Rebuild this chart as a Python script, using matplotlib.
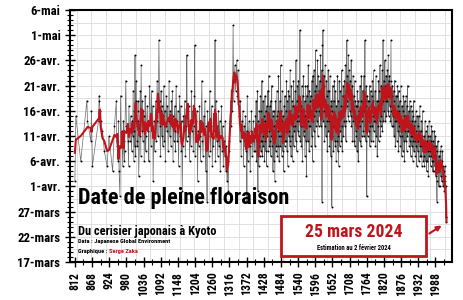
import matplotlib
matplotlib.use('Agg')
import numpy as np
import pandas as pd
import matplotlib.pyplot as plt
from matplotlib import font_manager as fm
from matplotlib.ticker import MultipleLocator, FixedLocator
from matplotlib.patches import Rectangle

# Kyoto cherry blossom full-flowering day of year
early_years = [812, 815, 831, 851, 853, 864, 866, 869, 889, 891, 892, 894, 895, 896,
               902, 908, 917, 923, 935, 941, 947, 948, 950, 953, 954, 956, 959, 961, 964, 965,
               968, 970, 971, 973, 974, 978, 980, 985, 987, 988, 990, 992, 994, 997, 999,
               1000, 1002, 1004, 1005, 1006, 1007, 1008, 1009, 1010, 1011, 1012, 1013, 1015,
               1016, 1017, 1018, 1019, 1020, 1023, 1025, 1027, 1028, 1030, 1032, 1033, 1035,
               1037, 1038, 1040, 1041, 1043, 1044, 1048, 1050, 1052, 1053, 1055, 1058, 1060,
               1062, 1064, 1066, 1067, 1070, 1072, 1075, 1077, 1079, 1080, 1082, 1083, 1086,
               1088, 1089, 1091, 1092, 1093, 1095, 1096, 1098, 1099,
               1100, 1102, 1104, 1105, 1107, 1108, 1110, 1112, 1114, 1116, 1118, 1119, 1121,
               1123, 1125, 1127, 1128, 1130, 1132, 1133, 1135, 1137, 1139, 1140, 1142, 1144,
               1146, 1148, 1150, 1152, 1153, 1155, 1157, 1159, 1160, 1162, 1164, 1166, 1168,
               1170, 1172, 1174, 1176, 1177, 1178, 1180, 1182, 1184, 1186, 1188, 1190, 1192,
               1194, 1196, 1198,
               1200, 1202, 1203, 1204, 1206, 1208, 1210, 1212, 1214, 1216, 1218, 1220, 1222,
               1224, 1226, 1228, 1230, 1232, 1234, 1236, 1238, 1240, 1242, 1243, 1244, 1246,
               1248, 1250, 1252, 1254, 1256, 1258, 1260, 1262, 1264, 1266, 1268, 1269, 1270,
               1272, 1274, 1276, 1278, 1280, 1282, 1284, 1286, 1288, 1290, 1292, 1294, 1296, 1298,
               1300, 1302, 1304, 1306, 1308, 1310, 1312, 1314, 1316, 1318, 1320, 1322, 1324,
               1326, 1328, 1330, 1332, 1334, 1336, 1338, 1340, 1342, 1344, 1346, 1348, 1350,
               1352, 1354, 1356, 1358, 1360, 1362, 1364, 1366, 1368, 1370, 1372, 1373, 1374,
               1376, 1378, 1380, 1382, 1384, 1386, 1388, 1390, 1392, 1394, 1396, 1398]
early_doy = [92, 105, 96, 108, 104, 100, 106, 95, 104, 109, 108, 106, 104, 104,
             102, 98, 95, 101, 94, 103, 108, 100, 99, 96, 104, 94, 89, 109, 99, 102,
             95, 104, 100, 96, 98, 112, 103, 100, 95, 107, 102, 100, 105, 98, 104,
             101, 110, 96, 102, 106, 99, 117, 97, 104, 108, 112, 103, 99,
             100, 106, 108, 104, 93, 101, 110, 97, 115, 102, 108, 100, 106,
             105, 96, 103, 109, 98, 101, 107, 102, 104, 96, 111, 105, 99,
             110, 102, 107, 92, 104, 98, 108, 100, 104, 112, 106, 101, 120,
             108, 103, 97, 106, 110, 101, 107, 104, 99,
             105, 111, 100, 106, 96, 103, 109, 102, 107, 98, 104, 112, 101,
             106, 99, 108, 103, 110, 96, 105, 100, 107, 102, 98, 111, 104,
             100, 106, 95, 103, 109, 101, 107, 98, 104, 90, 99, 105, 102,
             108, 97, 103, 100, 117, 106, 106, 101, 107, 96, 104, 99, 110,
             102, 106, 98,
             103, 109, 119, 97, 104, 100, 106, 92, 102, 99, 107, 101, 96,
             104, 112, 100, 97, 105, 102, 108, 94, 103, 99, 88, 106, 101,
             97, 104, 110, 98, 103, 107, 95, 101, 99, 105, 102, 120, 96,
             108, 100, 103, 97, 106, 99, 104, 94, 101, 107, 98, 103, 95, 100,
             97, 104, 94, 99, 92, 96, 90, 98, 100, 104, 108, 103, 110,
             106, 123, 108, 112, 115, 110, 113, 116, 109, 114, 108, 105, 100,
             108, 97, 104, 101, 106, 95, 103, 99, 105, 98, 102, 88, 109,
             96, 101, 104, 99, 94, 102, 106, 97, 100, 104, 98, 101]

# one value per year from 1400 to 2024 (2024 = estimate, 25 mars)
doy_1400_2024 = [
    98, 105, 101, 108, 96, 103, 100, 110, 97, 90,
    104, 99, 95, 106, 101, 97, 103, 109, 100, 98,
    106, 100, 112, 97, 104, 101, 108, 99, 103, 105,
    96, 104, 109, 100, 98, 106, 102, 95, 107, 103,
    101, 110, 98, 105, 113, 102, 99, 107, 104, 100,
    108, 97, 104, 101, 111, 99, 103, 106, 94, 105,
    100, 96, 106, 103, 92, 101, 108, 98, 104, 99,
    105, 110, 97, 102, 106, 99, 113, 101, 96, 104,
    103, 108, 99, 115, 101, 106, 97, 104, 110, 100,
    98, 105, 101, 94, 107, 103, 99, 109, 100, 102,
    106, 100, 112, 98, 104, 108, 95, 103, 110, 101,
    102, 109, 99, 106, 114, 100, 105, 97, 111, 104,
    108, 101, 96, 107, 103, 112, 99, 105, 102, 106,
    110, 103, 100, 116, 105, 98, 108, 104, 111, 102,
    105, 112, 101, 109, 104, 108, 122, 100, 106, 103,
    107, 99, 111, 104, 96, 109, 103, 113, 101, 106,
    102, 108, 97, 105, 111, 100, 104, 93, 109, 106,
    111, 104, 100, 115, 103, 107, 98, 110, 105, 108,
    103, 109, 99, 106, 112, 101, 105, 96, 113, 104,
    108, 102, 114, 105, 110, 99, 107, 118, 103, 106,
    111, 104, 109, 116, 101, 107, 113, 103, 110, 106,
    105, 112, 108, 117, 103, 110, 106, 114, 88, 119,
    109, 122, 104, 111, 106, 113, 100, 108, 115, 103,
    107, 101, 112, 104, 109, 98, 110, 105, 114, 102,
    104, 110, 99, 106, 113, 101, 107, 97, 108, 103,
    87, 106, 101, 111, 103, 98, 108, 104, 112, 100,
    105, 99, 110, 102, 96, 107, 104, 100, 113, 98,
    101, 108, 95, 105, 112, 103, 99, 110, 102, 106,
    107, 100, 114, 103, 98, 109, 105, 111, 101, 104,
    106, 112, 103, 109, 115, 104, 100, 110, 107, 120,
    108, 113, 105, 111, 117, 104, 110, 114, 106, 109,
    112, 105, 109, 116, 103, 108, 111, 100, 107, 113,
    104, 109, 100, 106, 112, 99, 105, 108, 102, 107,
    101, 107, 98, 110, 103, 105, 96, 108, 104, 106,
    106, 100, 111, 103, 108, 99, 113, 104, 101, 107,
    105, 110, 102, 108, 113, 101, 106, 109, 120, 103,
    107, 100, 111, 103, 89, 106, 109, 101, 105, 108,
    102, 108, 104, 111, 99, 106, 103, 110, 100, 107,
    109, 103, 112, 105, 100, 108, 114, 102, 106, 104,
    104, 110, 99, 106, 113, 101, 105, 108, 97, 107,
    108, 103, 112, 100, 107, 110, 104, 115, 101, 106,
    105, 111, 103, 109, 114, 102, 108, 120, 104, 110,
    112, 106, 110, 116, 104, 111, 108, 113, 105, 109,
    108, 114, 106, 111, 117, 105, 112, 109, 113, 107,
    110, 104, 112, 120, 106, 109, 103, 111, 107, 105,
    107, 103, 110, 101, 108, 112, 104, 99, 109, 106,
    104, 109, 100, 106, 111, 102, 107, 98, 110, 103,
    106, 101, 108, 99, 105, 111, 102, 104, 97, 107,
    101, 106, 98, 109, 103, 100, 105, 96, 108, 102,
    105, 100, 109, 103, 98, 107, 101, 111, 102, 104,
    102, 106, 99, 104, 108, 100, 103, 97, 107, 101,
    104, 99, 106, 101, 96, 105, 100, 108, 98, 103,
    100, 104, 97, 102, 106, 99, 101, 95, 105, 100,
    98, 103, 100, 105, 96, 102, 99, 107, 101, 97,
    102, 97, 104, 99, 95, 101, 106, 98, 100, 96,
    97, 101, 95, 100, 104, 98, 96, 102, 99, 94,
    100, 96, 103, 98, 101, 93, 99, 104, 97, 100,
    98, 101, 95, 100, 97, 103, 96, 99, 102, 94,
    96, 100, 94, 99, 102, 97, 95, 101, 98, 93,
    95, 99, 92, 88, 98, 96, 100, 94, 91, 97,
    97, 94, 91, 98, 95, 93, 99, 96, 92, 95,
    96, 98, 93, 91, 95, 92, 94, 90, 93, 95,
    92, 85, 91, 85, 84]

y_ticks = [76, 81, 86, 91, 96, 101, 106, 111, 116, 121, 126]
y_labels = ['17-mars', '22-mars', '27-mars', '1-avr.', '6-avr.', '11-avr.',
            '16-avr.', '21-avr.', '26-avr.', '1-mai', '6-mai']
x_ticks = list(range(812, 2000, 56))

years = early_years + list(range(1400, 2025))
doy = early_doy + doy_1400_2024
s = pd.Series(doy, index=years, dtype=float)
smooth = s.iloc[:-1].rolling(5, center=True, min_periods=1).mean()
smooth = pd.concat([smooth, s.iloc[-1:]])


# pick a narrow font if one is installed
def pick_font():
    fl = fm.fontManager.ttflist
    for name in ['Noto Sans ExtraCondensed', 'Noto Sans Condensed', 'Roboto Condensed',
                 'Liberation Sans Narrow', 'Open Sans Condensed', 'DejaVu Sans Condensed']:
        if any(f.name == name for f in fl):
            return name, 'normal'
    if any(f.name == 'DejaVu Sans' and str(f.stretch) == 'condensed' for f in fl):
        return 'DejaVu Sans', 'condensed'
    return 'DejaVu Sans', 'normal'


FONT, STRETCH = pick_font()
RED = '#c0141c'
plt.rcParams['font.family'] = [FONT, 'DejaVu Sans']
plt.rcParams['font.weight'] = 'bold'
plt.rcParams['font.stretch'] = STRETCH

fig = plt.figure(figsize=(4.64, 3.0), dpi=100)
ax = fig.add_axes([70 / 464, 1 - 262 / 300, 382 / 464, 252 / 300])

# background grid
for gx in np.arange(818, 2042, 48):
    ax.axvline(gx, color='#dcdcdc', lw=0.6, zorder=0)
for gy in np.arange(76, 126.1, 2.5):
    ax.axhline(gy, color='#dcdcdc', lw=0.6, zorder=0)

ax.plot(s.index, s.values, color='#6a6a6a', lw=0.5, marker='o', ms=1.4,
        mfc='black', mec='black', mew=0, zorder=2)
ax.plot(smooth.index, smooth.values, color=RED, lw=1.5, zorder=3)

ax.set_xlim(796, 2042)
ax.set_ylim(76, 126)
ax.yaxis.set_major_locator(FixedLocator(y_ticks))
ax.set_yticklabels(y_labels)
ax.yaxis.set_minor_locator(MultipleLocator(1))
ax.xaxis.set_major_locator(FixedLocator(x_ticks))
ax.set_xticklabels([str(x) for x in x_ticks], rotation=90)
ax.xaxis.set_minor_locator(MultipleLocator(28))
ax.tick_params(axis='both', which='major', direction='inout', length=7, width=1,
               labelsize=10, pad=3.5)
ax.tick_params(axis='both', which='minor', direction='inout', length=5, width=0.8)
for sp in ax.spines.values():
    sp.set_linewidth(1.5)
    sp.set_color('black')

# titles
title = fig.text(78 / 464, 1 - 198 / 300, 'Date de pleine floraison', fontsize=16,
                 va='center', ha='left', color='black')
sub = fig.text(78 / 464, 1 - 231 / 300, 'Du cerisier japonais à Kyoto', fontsize=10,
               va='center', ha='left', color='black')
src = fig.text(78 / 464, 1 - 242 / 300, 'Data : Japanese Global Environment', fontsize=5,
               va='center', ha='left', color='black')
gra = fig.text(78 / 464, 1 - 252 / 300, 'Graphique : ', fontsize=5,
               va='center', ha='left', color='black')
zaka = fig.text(0.3, 1 - 252 / 300, 'Serge Zaka', fontsize=5,
                va='center', ha='left', color=RED)

# highlight box
box = Rectangle((281 / 464, 1 - 256 / 300), 145 / 464, 40 / 300,
                transform=fig.transFigure, facecolor='white', edgecolor=RED, lw=2)
fig.add_artist(box)
big = fig.text(353.5 / 464, 1 - 232 / 300, '25 mars 2024', fontsize=16, color=RED,
               ha='center', va='center')
est = fig.text(353.5 / 464, 1 - 248 / 300, 'Estimation au 2 février 2024', fontsize=5,
               ha='center', va='center', color='black')
ax.annotate('', xy=(444 / 464, 1 - 224 / 300), xycoords='figure fraction',
            xytext=(427 / 464, 1 - 235 / 300), textcoords='figure fraction',
            arrowprops=dict(arrowstyle='-|>', color=RED, lw=1.5, mutation_scale=7))

# scale text sizes to the widths seen in the reference
fig.canvas.draw()
r = fig.canvas.get_renderer()


def fit(txt, target, use_height=False):
    bb = txt.get_window_extent(r)
    w = bb.height if use_height else bb.width
    return txt.get_fontsize() * target / w


for t, w in [(title, 212), (sub, 138), (src, 92), (big, 97), (est, 75)]:
    t.set_fontsize(fit(t, w))
ysz = fit(ax.get_yticklabels()[2], 43)
xsz = fit(ax.get_xticklabels()[4], 24, use_height=True)
ax.tick_params(axis='y', which='major', labelsize=ysz)
ax.tick_params(axis='x', which='major', labelsize=xsz)
gra.set_fontsize(src.get_fontsize())
zaka.set_fontsize(src.get_fontsize())
fig.canvas.draw()
bb = gra.get_window_extent(r)
zaka.set_x(bb.x1 / fig.bbox.width)

fig.savefig('out.png', dpi=100, facecolor='white')
